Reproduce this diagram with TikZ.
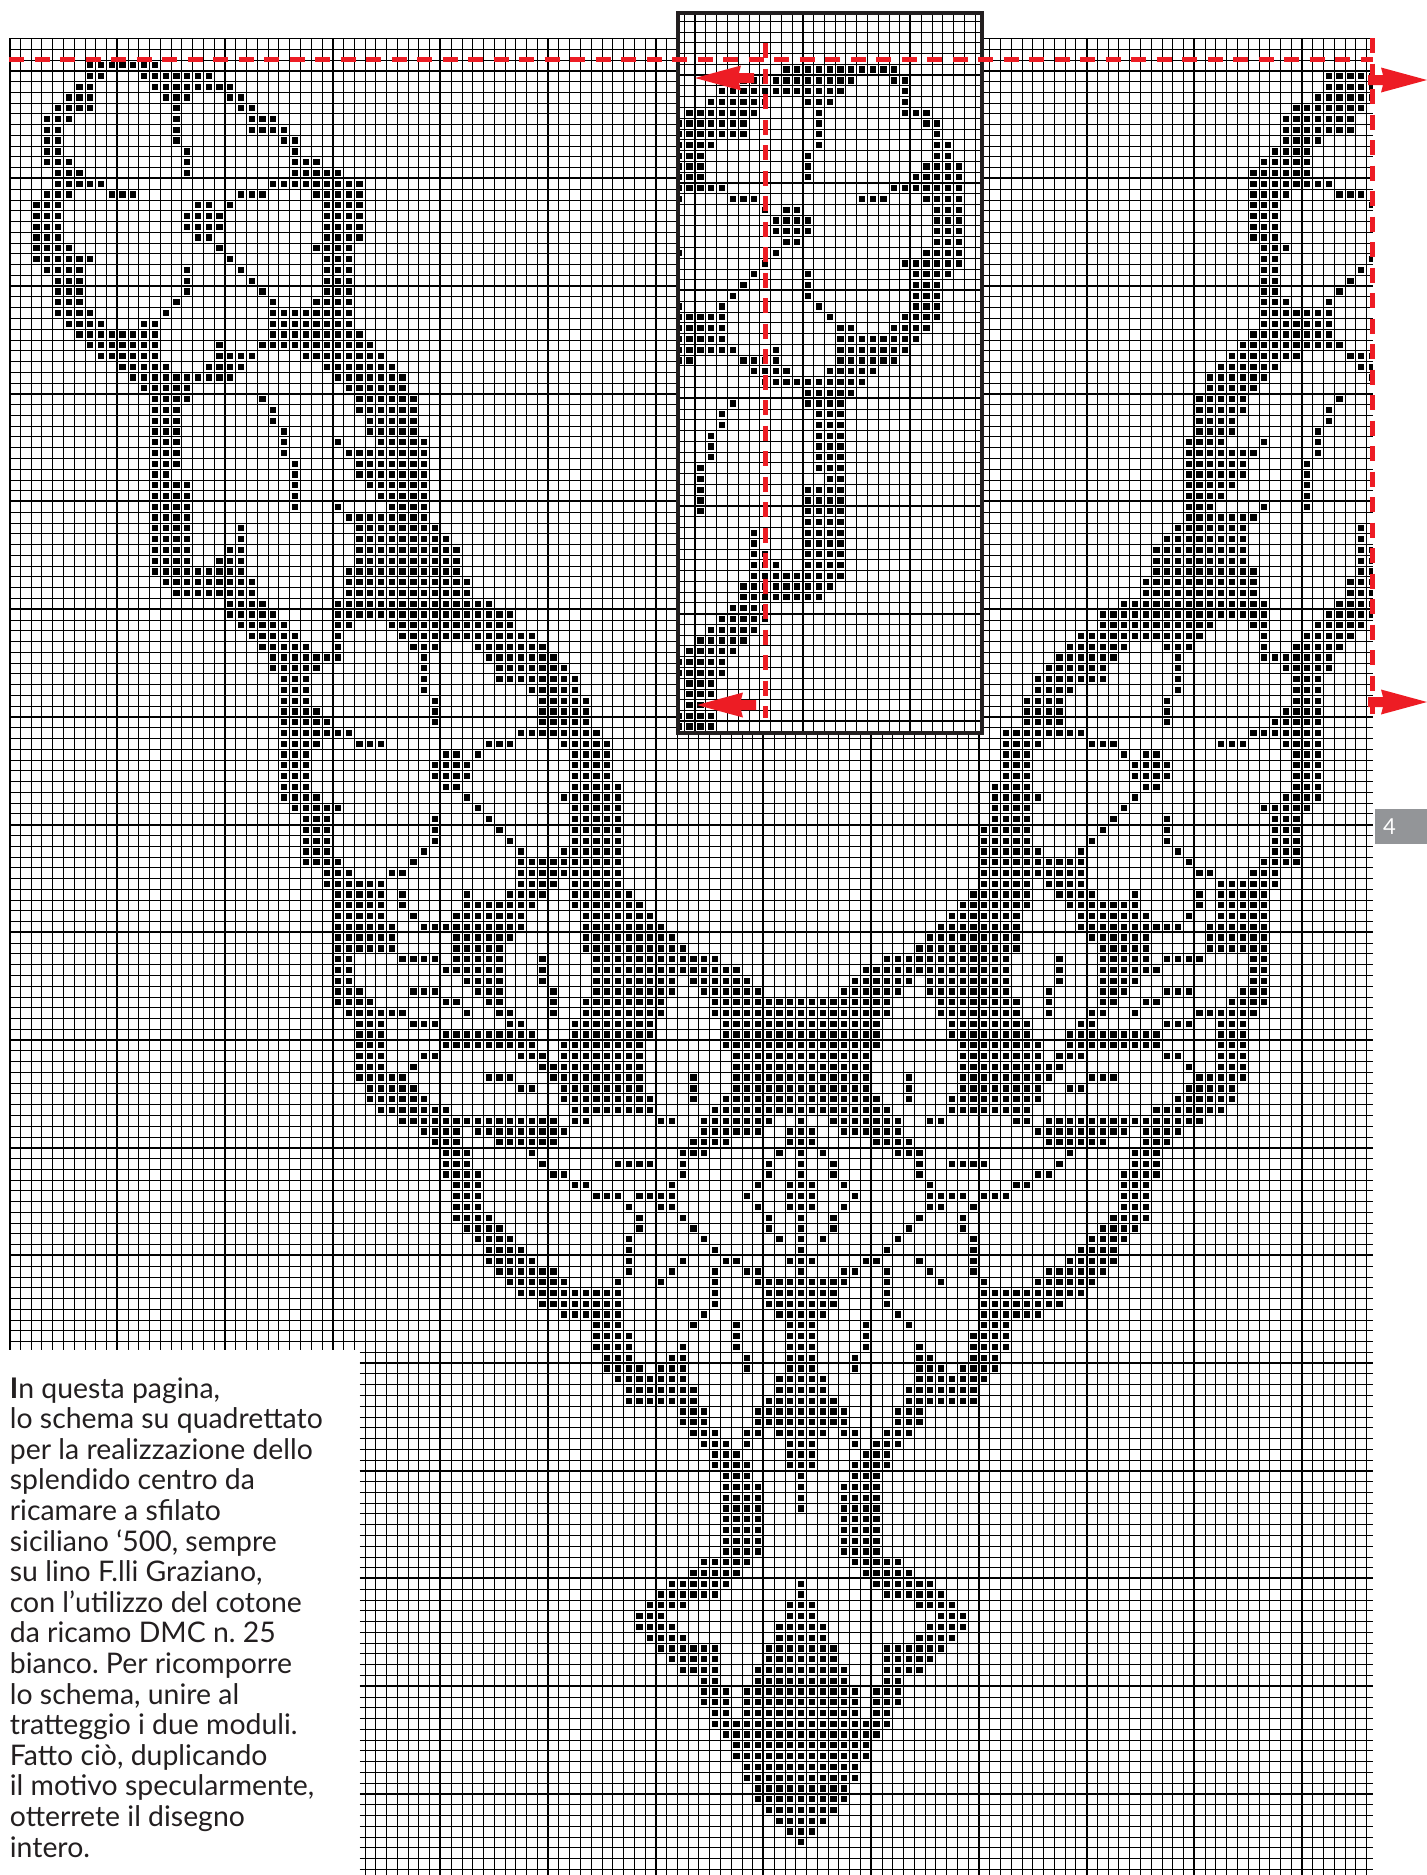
\documentclass[tikz,border=0pt]{standalone}
\usepackage{fontspec}
\setmainfont{Lato}
\usetikzlibrary{positioning}
\definecolor{inkblack}{RGB}{35,31,32}
\definecolor{markred}{RGB}{237,28,36}
\definecolor{tabgray}{RGB}{147,149,152}

% one row of the chart: row number, then runs of columns
\newcommand{\stitchrow}[2]{\foreach \from/\upto in {#2}{\foreach \col in {\from,...,\upto}{\fill (\col+.21,#1+.21) rectangle (\col+.79,#1+.79);}}}

\newcommand{\leftchart}{%
\stitchrow{2}{7/13}\stitchrow{3}{7/8,12/18}\stitchrow{4}{6/7,13/20}\stitchrow{5}{5/7,14/16,20/21}%
\stitchrow{6}{4/7,15,21/22}\stitchrow{7}{3/5,15,22/24}\stitchrow{8}{3/4,15,22/25}\stitchrow{9}{3/4,15,25/26}%
\stitchrow{10}{3/4,16,26}\stitchrow{11}{3/5,16,26/28}\stitchrow{12}{4/6,16,26/30}\stitchrow{13}{4/8,24/32}%
\stitchrow{14}{3/5,9/11,21/23,28/32}\stitchrow{15}{2/4,17/18,20,29/32}\stitchrow{16}{2/4,16/19,29/32}%
\stitchrow{17}{2/4,16/19,29/32}\stitchrow{18}{2/4,17/18,29/32}\stitchrow{19}{2/5,19,28/31}%
\stitchrow{20}{2/7,20,29/31}\stitchrow{21}{3/6,16,21,29/31}\stitchrow{22}{4/6,16,22,29/31}%
\stitchrow{23}{4/6,16,23,29/31}\stitchrow{24}{4/6,15,24,28/31}\stitchrow{25}{4/7,14,24/31}%
\stitchrow{26}{5/8,12/13,24/31}\stitchrow{27}{6/13,24/32}\stitchrow{28}{7/13,19,23/33}%
\stitchrow{29}{8/13,19/22,27/34}\stitchrow{30}{10/14,18/21,29/35}\stitchrow{31}{11/20,30/36}%
\stitchrow{32}{12/16,31/36}\stitchrow{33}{13/16,23,32/37}\stitchrow{34}{13/15,24,32/37}%
\stitchrow{35}{13/15,24,33/37}\stitchrow{36}{13/15,25,33/37}\stitchrow{37}{13/15,25,30,34/38}%
\stitchrow{38}{13/15,25,31/38}\stitchrow{39}{13/15,26,32/38}\stitchrow{40}{13/14,26,32/38}%
\stitchrow{41}{13/16,26,33/38}\stitchrow{42}{13/16,26,34/38}\stitchrow{43}{13/16,26,30,35/38}%
\stitchrow{44}{13/16,31/38}\stitchrow{45}{13/16,21,32/39}\stitchrow{46}{13/16,21,32/40}%
\stitchrow{47}{13/16,20/21,32/41}\stitchrow{48}{13/16,19/21,32/41}\stitchrow{49}{13/21,31/41}%
\stitchrow{50}{14/22,31/42}\stitchrow{51}{15/22,31/42}\stitchrow{52}{20/23,30/44}%
\stitchrow{53}{20/24,30/46}\stitchrow{54}{21/25,30/31,35/46}\stitchrow{55}{22/26,30,36/48}%
\stitchrow{56}{23/27,30,37/39,43/49}\stitchrow{57}{24/30,38,44/50}\stitchrow{58}{24/28,38,45/51}%
\stitchrow{59}{25/27,38,45/52}\stitchrow{60}{25/27,38,48/52}\stitchrow{61}{25/27,39,49/53}%
\stitchrow{62}{25/28,39,49/53}%
\stitchrow{63}{53}\stitchrow{65}{55}\stitchrow{66}{55}\stitchrow{67}{55}\stitchrow{68}{55}%
\stitchrow{69}{56}\stitchrow{70}{56}\stitchrow{71}{56}\stitchrow{72}{56}}

\newcommand{\rightchart}{%
\stitchrow{3}{122/126}\stitchrow{4}{122/126}\stitchrow{5}{121/126}\stitchrow{6}{119/125}%
\stitchrow{7}{118/124}\stitchrow{8}{118/124}\stitchrow{9}{118/121}\stitchrow{10}{117/120}%
\stitchrow{11}{116/120}\stitchrow{12}{115/120}\stitchrow{13}{115/122}\stitchrow{14}{115/118,123/125}%
\stitchrow{15}{115/117,126}\stitchrow{16}{115/117}\stitchrow{17}{115/117}\stitchrow{18}{115/117}%
\stitchrow{19}{116/118}\stitchrow{20}{116/117,126}\stitchrow{21}{116/117,125}\stitchrow{22}{116/117,124}%
\stitchrow{23}{116/117,123}\stitchrow{24}{116/118,122}\stitchrow{25}{116/122}\stitchrow{26}{116/122}%
\stitchrow{27}{115/122}\stitchrow{28}{114/123}\stitchrow{29}{113/119,124/126}\stitchrow{30}{112/117,125/126}%
\stitchrow{31}{111/116,126}\stitchrow{32}{111/115}\stitchrow{33}{110/114,123}\stitchrow{34}{110/114,122}%
\stitchrow{35}{110/113,122}\stitchrow{36}{110/113,121}\stitchrow{37}{109/112,116,121}\stitchrow{38}{109/115,121}%
\stitchrow{39}{109/114,120}\stitchrow{40}{109/114,120}\stitchrow{41}{109/113,120}\stitchrow{42}{109/112,120}%
\stitchrow{43}{109/111,116,120}\stitchrow{44}{109/115}\stitchrow{45}{108/114,125}\stitchrow{46}{107/114,125}%
\stitchrow{47}{106/114,125/126}\stitchrow{48}{106/114,125/126}\stitchrow{49}{106/115,125/126}%
\stitchrow{50}{105/115,124/126}\stitchrow{51}{105/115,124/126}\stitchrow{52}{103/116,123/126}%
\stitchrow{53}{101/116,122/126}\stitchrow{54}{101/111,115/116,121/125}\stitchrow{55}{99/110,116,120/124}%
\stitchrow{56}{98/103,107/109,116,119/123}\stitchrow{57}{97/102,108,116/122}\stitchrow{58}{96/101,108,118/122}%
\stitchrow{59}{95/101,108,119/121}\stitchrow{60}{95/98,108,119/121}\stitchrow{61}{94/97,107,119/121}%
\stitchrow{62}{94/97,107,118/121}}

\newcommand{\midchart}{%
\stitchrow{63}{25/29,39,49/52}\stitchrow{64}{25/31,47/54}\stitchrow{65}{25/28,32/34,44/46,51/54}%
\stitchrow{66}{25/27,40/41,43,52/54}\stitchrow{67}{25/27,39/42,52/54}\stitchrow{68}{25/27,39/42,52/54}%
\stitchrow{69}{25/27,40/41,52/55}\stitchrow{70}{25/28,42,51/55}\stitchrow{71}{26/30,43,52/55}%
\stitchrow{72}{27/29,39,44,52/55}\stitchrow{73}{27/29,39,45,52/56}\stitchrow{74}{27/29,39,46,52/56}%
\stitchrow{75}{27/29,38,47,51/56}\stitchrow{76}{27/30,37,47/56}\stitchrow{77}{29/31,35/36,47/56}%
\stitchrow{78}{29/34,47/50,52/56}\stitchrow{79}{30/34,36,42,46/49,52/57}\stitchrow{80}{30/34,36,42/48,52/58}%
\stitchrow{81}{30/34,37,41/47,53/59}\stitchrow{82}{30/35,38/47,53/60}\stitchrow{83}{30/35,41/46,53/61}%
\stitchrow{84}{30/35,41/45,53/62}\stitchrow{85}{30/31,36/39,41/45,49,54/65}\stitchrow{86}{30/31,40/45,49,54/67}%
\stitchrow{87}{30/31,42/45,49,54/61,63/68}\stitchrow{88}{30/32,37/39,43/45,50,54/61,64/69}%
\stitchrow{89}{30/33,40/41,44/45,50,53/60,65/73}\stitchrow{90}{31/36,42,45/46,50,53/60,65/73}%
\stitchrow{91}{32/34,37/39,46/47,52/59,66/73}\stitchrow{92}{32/34,40/48,52/59,66/73}%
\stitchrow{93}{32/34,40/48,51/58,66/73}\stitchrow{94}{32/34,38/39,47/49,51/58,67/73}%
\stitchrow{95}{32/34,37,49/58,67/73}\stitchrow{96}{32/36,44/46,50/58,63,67/73}%
\stitchrow{97}{33/37,47/48,51/58,63,67/73}\stitchrow{98}{33/38,51/59,63,66/73}%
\stitchrow{99}{34/40,52/59,65/73}\stitchrow{100}{36/50,52/53,60/61,64/70,73}%
\stitchrow{101}{38/41,43/51,64/69,72/73}\stitchrow{102}{39/41,45/50,63/66,72/73}%
\stitchrow{103}{40/42,48,62/64,71,73}\stitchrow{104}{40/42,49,56/59,62,70,73}%
\stitchrow{105}{40/43,50/51,62,70,73}\stitchrow{106}{41/43,52/53,61,69,72/73}%
\stitchrow{107}{41/43,54/56,58/61,68,72/73}\stitchrow{108}{41/43,57,60/61,69,72/73}%
\stitchrow{109}{41/44,58,62,70,73}\stitchrow{110}{42/45,58,63,70,73}\stitchrow{111}{43/46,57,64,71,73}%
\stitchrow{112}{44/47,57,65,73}\stitchrow{113}{44/48,57,62,66/67,72/73}\stitchrow{114}{45/50,57,61,65,68/69,73}%
\stitchrow{115}{46/51,56,60,65,69/73}\stitchrow{116}{47/56,65,70/73}\stitchrow{117}{49/56,65,70/73}%
\stitchrow{118}{51/56,64,71/73}\stitchrow{119}{54/56,63,67,72/73}\stitchrow{120}{54/57,67,72/73}%
\stitchrow{121}{54/57,62,67,72/73}\stitchrow{122}{55/57,61/62,68,72/73}\stitchrow{123}{55/58,60/62,68,72/73}%
\stitchrow{124}{56/62,71/73}\stitchrow{125}{57/63,71/73}\stitchrow{126}{57/63,70/73}%
\stitchrow{127}{62/64,69/73}\stitchrow{128}{62/64,69/73}\stitchrow{129}{63/65,68/69,71/73}%
\stitchrow{130}{64/66,68,72/73}\stitchrow{131}{65/67,72/73}\stitchrow{132}{65/68,72/73}%
\stitchrow{133}{66/68,73}\stitchrow{134}{66/69,73}\stitchrow{135}{66/69,73}\stitchrow{136}{66/69,73}%
\stitchrow{137}{66/69}\stitchrow{138}{66/69}\stitchrow{139}{66/69}\stitchrow{140}{66/69}%
\stitchrow{141}{64/68}\stitchrow{142}{63/67}\stitchrow{143}{61/66,73}\stitchrow{144}{60/65,73}%
\stitchrow{145}{59/62,72/73}\stitchrow{146}{58/60,72/73}\stitchrow{147}{58/61,71/73}\stitchrow{148}{59/62,71/73}%
\stitchrow{149}{60/65,70/73}\stitchrow{150}{61/65,70/73}\stitchrow{151}{62/65,69/73}\stitchrow{152}{64/65,69/73}%
\stitchrow{153}{64/66,68/73}\stitchrow{154}{64/66,68/73}\stitchrow{155}{65/66,68/73}\stitchrow{156}{65/73}%
\stitchrow{157}{66/73}\stitchrow{158}{67/73}\stitchrow{159}{67/73}\stitchrow{160}{68/73}\stitchrow{161}{68/73}%
\stitchrow{162}{69/73}\stitchrow{163}{69/73}\stitchrow{164}{70/73}\stitchrow{165}{71/73}\stitchrow{166}{72/73}%
\stitchrow{167}{73}}

\newcommand{\boxchart}{%
\stitchrow{-1}{8/18}\stitchrow{0}{4/14,18/19}\stitchrow{1}{2/13,19}\stitchrow{2}{1/6,10/12,19}%
\stitchrow{3}{-1/5,11,19/21}\stitchrow{4}{-2/4,11,21/22}\stitchrow{5}{-2/4,11,22}\stitchrow{6}{-2/1,11,22/23}%
\stitchrow{7}{-2/0,10,22/23}\stitchrow{8}{-2/0,10,21/24}\stitchrow{9}{-2/0,10,20/24}\stitchrow{10}{-2/2,18/24}%
\stitchrow{11}{-2,3/5,15/17,21/24}\stitchrow{12}{6,8/9,22/24}\stitchrow{13}{7/10,22/24}\stitchrow{14}{7/10,22/24}%
\stitchrow{15}{8/9,22/24}\stitchrow{16}{-2,7,21/24}\stitchrow{17}{6,19/24}\stitchrow{18}{5,10,20/23}%
\stitchrow{19}{4,10,20/22}\stitchrow{20}{3,10,20/22}\stitchrow{21}{-2,2,11,20/22}\stitchrow{22}{-2/2,12,19/22}%
\stitchrow{23}{-2/2,13/14,18/21}\stitchrow{24}{-2/2,13/20}\stitchrow{25}{-2/3,7,13/19}\stitchrow{26}{-2/-1,4/7,13/18}%
\stitchrow{27}{5/8,12/16}\stitchrow{28}{6/15}\stitchrow{29}{10/14}\stitchrow{30}{3,10/13}\stitchrow{31}{2,11/13}%
\stitchrow{32}{2,11/13}\stitchrow{33}{1,11/13}\stitchrow{34}{1,11/13}\stitchrow{35}{1,11/13}\stitchrow{36}{0,11/13}%
\stitchrow{37}{0,12/13}\stitchrow{38}{0,10/13}\stitchrow{39}{0,10/13}\stitchrow{40}{0,10/13}\stitchrow{41}{10/13}%
\stitchrow{42}{5,10/13}\stitchrow{43}{5,10/13}\stitchrow{44}{5/6,10/13}\stitchrow{45}{5/7,10/13}\stitchrow{46}{5/13}%
\stitchrow{47}{4/12}\stitchrow{48}{4/11}\stitchrow{49}{3/6}\stitchrow{50}{2/6}\stitchrow{51}{1/5}\stitchrow{52}{0/4}%
\stitchrow{53}{-1/3}\stitchrow{54}{-2/2}\stitchrow{55}{-2/2}\stitchrow{56}{-1/1}\stitchrow{57}{-1/1}\stitchrow{58}{-1/1}%
\stitchrow{59}{-2/1}\stitchrow{60}{-2/1}}

\begin{document}
\begin{tikzpicture}[x=.5pt,y=-.5pt,
  thinline/.style={line width=.33pt},
  majorline/.style={line width=1pt},
  redline/.style={markred, line width=2.3pt, dash pattern=on 7.7pt off 5.05pt},
  markarrow/.pic={\fill[markred] (0,0) -- (46,-12.5) -- (44,-5) -- (59,-5) -- (59,5) -- (44,5) -- (46,12.5) -- cycle;},
  tabbox/.style={fill=tabgray, text=white, minimum width=26pt, minimum height=17.5pt, inner xsep=4pt, text width=18pt, align=left, font=\fontsize{11}{13}\selectfont},
  captiontext/.style={text=inkblack, align=left, inner sep=0pt, font=\frenchspacing\fontsize{14.2}{15.3}\selectfont}
]
  \useasboundingbox (0,0) rectangle (1427,1875);
  \begin{scope}[shift={(9.5,38.3)},x=5.385pt,y=-5.385pt]
    \foreach \k in {0,...,170}{
      \pgfmathsetmacro\rowstart{\k>121?32.5:0}
      \draw[thinline] (\rowstart,\k) -- (126.6,\k);
    }
    \foreach \k in {3,13,...,163}{
      \pgfmathsetmacro\rowstart{\k>121?32.5:0}
      \draw[majorline] (\rowstart,\k) -- (126.6,\k);
    }
    \foreach \k in {0,...,126}{
      \pgfmathsetmacro\colstart{\k<33?121.8:170.5}
      \draw[thinline] (\k,0) -- (\k,\colstart);
    }
    \foreach \k in {0,10,...,120}{
      \pgfmathsetmacro\colstart{\k<33?121.8:170.5}
      \draw[majorline] (\k,0) -- (\k,\colstart);
    }
    \leftchart
    \begin{scope}
      \clip (0,0) rectangle (126.6,171);
      \rightchart
      \midchart
      \begin{scope}[shift={(147,0)},x=-5.385pt]
        \midchart
      \end{scope}
    \end{scope}
  \end{scope}
  % the framed module over the chart
  \fill[white] (678,13) rectangle (982,733);
  \begin{scope}
    \clip (678,13) rectangle (982,733);
    \begin{scope}[shift={(695,75)},x=5.385pt,y=-5.385pt]
      \foreach \k in {-6,...,61}{\draw[thinline] (-2,\k) -- (27,\k);}
      \foreach \k in {-2,...,27}{\draw[thinline] (\k,-6) -- (\k,61);}
      \foreach \k in {0,10,...,60}{\draw[majorline] (-2,\k) -- (27,\k);}
      \foreach \k in {0,10,20}{\draw[majorline] (\k,-6) -- (\k,61);}
      \boxchart
    \end{scope}
  \end{scope}
  \draw[inkblack, line width=2.4pt] (678,13) rectangle (982,733);
  % cut lines and arrows
  \draw[redline] (9,59.7) -- (1373,59.7);
  \draw[redline] (765.7,43) -- (765.7,718);
  \draw[redline] (1372.7,38) -- (1372.7,714);
  \pic at (695,78) {markarrow};
  \pic at (697,705) {markarrow};
  \pic[xscale=-1] at (1427,80) {markarrow};
  \pic[xscale=-1] at (1427,702) {markarrow};
  \node[tabbox] (tabfour) at (1401,826.5) {4};
  \node[captiontext, anchor=north west] (caption) at (9.5,1377) {\textbf{I}n questa pagina,\\
    lo schema su quadrettato\\
    per la realizzazione dello\\
    splendido centro da\\
    ricamare a sfilato\\
    siciliano ‘500, sempre\\
    su lino F.lli Graziano,\\
    con l’utilizzo del cotone\\
    da ricamo DMC n. 25\\
    bianco. Per ricomporre\\
    lo schema, unire al\\
    tratteggio i due moduli.\\
    Fatto ciò, duplicando\\
    il motivo specularmente,\\
    otterrete il disegno\\
    intero.};
\end{tikzpicture}
\end{document}
